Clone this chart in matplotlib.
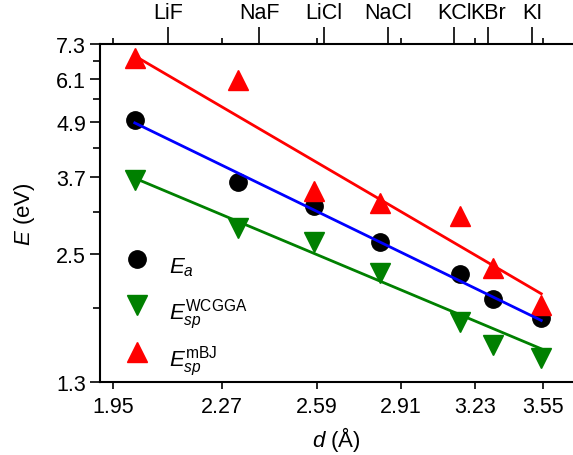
import matplotlib
matplotlib.use("Agg")
import matplotlib.pyplot as plt
from matplotlib.ticker import NullFormatter

# datos
d = [2.01, 2.32, 2.58, 2.83, 3.16, 3.31, 3.54]
E_a = [4.95, 3.60, 3.19, 2.65, 2.26, 1.99, 1.80]
E_wcgga = [3.64, 2.85, 2.66, 2.27, 1.77, 1.57, 1.47]
E_mbj = [6.80, 6.08, 3.45, 3.24, 3.04, 2.33, 1.93]

# rectas de ajuste (extremos)
fit_d = [2.01, 3.54]
fit_a = [4.88, 1.78]
fit_wcgga = [3.68, 1.54]
fit_mbj = [6.87, 2.04]

x_ticks = [1.95, 2.27, 2.59, 2.91, 3.23, 3.55]
y_ticks = [1.3, 2.5, 3.7, 4.9, 6.1, 7.3]
y_minor = [1.9, 3.1, 4.3, 5.5, 6.7]
top_ticks = [2.105, 2.39, 2.617, 2.861, 3.136, 3.288, 3.497]
top_labels = ['LiF', 'NaF', 'LiCl', 'NaCl', 'KCl', 'KBr', 'KI']

plt.rcParams['font.family'] = ['Liberation Sans', 'DejaVu Sans']
plt.rcParams['mathtext.fontset'] = 'custom'
plt.rcParams['mathtext.rm'] = 'Liberation Sans'
plt.rcParams['mathtext.it'] = 'Liberation Sans:italic'

fig = plt.figure(figsize=(5.73, 4.56), dpi=100)
ax = fig.add_axes([100 / 573, 73 / 456, 473 / 573, 338 / 456])

ax.plot(d, E_a, 'o', color='black', ms=12.5, label=r'$E_a$')
ax.plot(d, E_wcgga, 'v', color='green', ms=14.5, label=r'$E_{sp}^{\mathrm{WCGGA}}$')
ax.plot(d, E_mbj, '^', color='red', ms=14.5, label=r'$E_{sp}^{\mathrm{mBJ}}$')

ax.plot(fit_d, fit_a, color='blue', lw=2)
ax.plot(fit_d, fit_wcgga, color='green', lw=2)
ax.plot(fit_d, fit_mbj, color='red', lw=2)

ax.set_xscale('log')
ax.set_yscale('log')
ax.set_xlim(1.915, 3.70)
ax.set_ylim(1.3, 7.3)
ax.set_xticks(x_ticks, [f'{v:.2f}' for v in x_ticks])
ax.set_xticks([], minor=True)
ax.set_yticks(y_ticks, [f'{v:.1f}' for v in y_ticks])
ax.set_yticks(y_minor, minor=True)
ax.yaxis.set_minor_formatter(NullFormatter())
ax.tick_params(axis='both', which='both', direction='out', labelsize=15.5, width=1.2)
ax.tick_params(axis='x', which='major', length=5, pad=5)
ax.tick_params(axis='y', which='major', length=7, pad=3)
ax.tick_params(axis='y', which='minor', length=5)
ax.spines['right'].set_visible(False)
ax.spines['top'].set_visible(False)
for s in ['left', 'bottom']:
    ax.spines[s].set_linewidth(1.5)

ax.set_xlabel(r'$d$ (Å)', fontsize=16, labelpad=5)
ax.set_ylabel(r'$E$ (eV)', fontsize=16, labelpad=14)

# eje superior con los compuestos
top = ax.twiny()
top.set_xscale('log')
top.set_xlim(ax.get_xlim())
top.set_xticks(top_ticks, top_labels)
top.set_xticks(x_ticks, minor=True)
top.xaxis.set_minor_formatter(NullFormatter())
top.tick_params(axis='x', which='major', direction='out', length=12, width=1.2, labelsize=15.5, pad=3)
top.tick_params(axis='x', which='minor', direction='out', length=4, width=1.2)
top.spines['right'].set_visible(False)
top.spines['left'].set_visible(False)
top.spines['bottom'].set_visible(False)
top.spines['top'].set_linewidth(1.5)

ax.legend(loc='upper left', bbox_to_anchor=(0.0, 0.46), frameon=False, fontsize=16,
          handletextpad=0.7, labelspacing=0.4, borderaxespad=0.5, handlelength=1.5,
          handleheight=2.2)

fig.savefig('out.png', dpi=100)
